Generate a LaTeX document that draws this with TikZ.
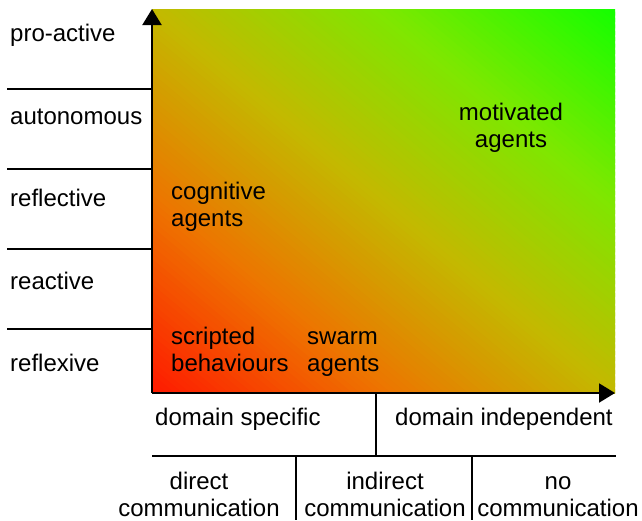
\documentclass[tikz,border=0pt]{standalone}
\usepackage{fontspec}
\setmainfont{Liberation Sans}
\usetikzlibrary{arrows.meta}
\definecolor{cR}{RGB}{255,25,0}
\definecolor{cO}{RGB}{238,115,0}
\definecolor{cY}{RGB}{195,185,0}
\definecolor{cL}{RGB}{125,232,0}
\definecolor{cG}{RGB}{20,255,0}
\tikzset{
  lbl/.style={inner sep=0pt, font=\fontsize{24}{27}\selectfont},
  lbll/.style={lbl, anchor=base west, align=left},
  lblc/.style={lbl, anchor=base, align=center},
  sep/.style={line width=1.5pt, black},
  axis/.style={line width=2pt, black, -{Triangle[length=16pt,width=19pt]}},
}
\begin{document}
\begin{tikzpicture}[x=1pt,y=-1pt]
\useasboundingbox (0,0) rectangle (642,520);
% gradient field: red at bottom-left corner to green at top-right corner
\begin{scope}[shift={(152,393)}, x={(463pt,0pt)}, y={(0pt,384pt)}]
\clip (0,0) rectangle (1,1);
\foreach \i in {0,...,119}{
  \pgfmathsetmacro{\tv}{(\i+0.5)/120}
  \pgfmathtruncatemacro{\seg}{min(3,floor(4*\tv))}
  \pgfmathsetmacro{\pp}{(4*\tv-\seg)*100}
  \pgfmathsetmacro{\sa}{2*\i/120}
  \pgfmathsetmacro{\sb}{2*(\i+1.6)/120}
  \ifcase\seg \colorlet{ca}{cR}\colorlet{cb}{cO}%
  \or \colorlet{ca}{cO}\colorlet{cb}{cY}%
  \or \colorlet{ca}{cY}\colorlet{cb}{cL}%
  \else \colorlet{ca}{cL}\colorlet{cb}{cG}\fi
  \fill[cb!\pp!ca] (\sa+2,-2) -- (-2,\sa+2) -- (-2,\sb+2) -- (\sb+2,-2) -- cycle;
}
\end{scope}
% coordinates
\coordinate (o) at (152,393);
\coordinate (ytop) at (152,9);
\coordinate (xend) at (615,393);
\foreach \yy/\nm in {89/a,169/b,249/c,329/d}{
  \coordinate (l\nm) at (7,\yy);
  \coordinate (r\nm) at (152,\yy);
  \draw[sep] (l\nm) -- (r\nm);
}
\coordinate (dv1) at (376,393);
\coordinate (dv2) at (376,456);
\coordinate (hl) at (152,456);
\coordinate (hr) at (616,456);
\coordinate (c1t) at (296,456);
\coordinate (c1b) at (296,520);
\coordinate (c2t) at (472,456);
\coordinate (c2b) at (472,520);
\draw[sep] (dv1) -- (dv2);
\draw[sep] (hl) -- (hr);
\draw[sep] (c1t) -- (c1b);
\draw[sep] (c2t) -- (c2b);
% axes
\draw[axis] (o) -- (ytop);
\draw[axis] (o) -- (xend);
% left labels
\node[lbll] (proactive) at (10,41.5) {pro-active};
\node[lbll] (autonomous) at (10,124) {autonomous};
\node[lbll] (reflective) at (10,206.5) {reflective};
\node[lbll] (reactive) at (10,289) {reactive};
\node[lbll] (reflexive) at (10,371.5) {reflexive};
% field labels (base = baseline of last line)
\node[lbll] (cognitive) at (171,226) {cognitive\\agents};
\node[lblc] (motivated) at (511,147) {motivated\\agents};
\node[lbll] (scripted) at (171,371) {scripted\\behaviours};
\node[lbll] (swarm) at (307,371) {swarm\\agents};
% bottom labels
\node[lbll] (dspec) at (155,425) {domain specific};
\node[lbll] (dind) at (395,425) {domain independent};
\node[lblc] (direct) at (199,516) {direct\\communication};
\node[lblc] (indirect) at (385,516) {indirect\\communication};
\node[lblc] (nocomm) at (558,516) {no\\communication};
\end{tikzpicture}
\end{document}
